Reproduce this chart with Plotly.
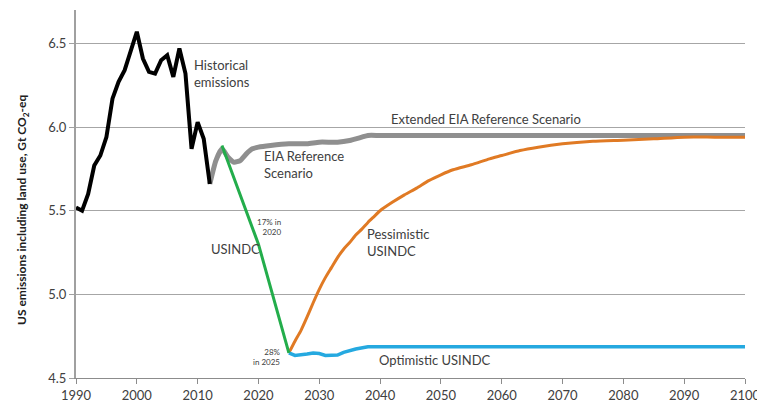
import plotly.graph_objects as go

# Historical US emissions including land use (Gt CO2-eq)
hist_years = list(range(1990, 2013))
hist_vals = [5.52, 5.50, 5.60, 5.77, 5.83, 5.94, 6.17, 6.27, 6.34, 6.45, 6.57,
             6.41, 6.33, 6.32, 6.40, 6.43, 6.30, 6.47, 6.32, 5.87, 6.03, 5.93, 5.66]

# EIA reference scenario, extended flat to 2100
eia_years = [2012, 2013, 2014, 2015, 2016, 2017, 2018, 2019, 2020, 2022, 2025,
             2028, 2030, 2033, 2035, 2037, 2038, 2040, 2060, 2080, 2100]
eia_vals = [5.66, 5.80, 5.87, 5.82, 5.79, 5.80, 5.84, 5.87, 5.88, 5.89, 5.90,
            5.90, 5.91, 5.91, 5.92, 5.94, 5.95, 5.95, 5.95, 5.95, 5.95]

# USINDC pathway: 17% below 2005 in 2020, 28% below in 2025
indc_years = [2014, 2020, 2025]
indc_vals = [5.89, 5.30, 4.65]

# Pessimistic USINDC: return toward reference after 2025
pess_years = [2025, 2026, 2027, 2028, 2029, 2030, 2031, 2032, 2033, 2034, 2035,
              2036, 2037, 2038, 2039, 2040, 2042, 2044, 2046, 2048, 2050, 2052,
              2055, 2058, 2060, 2063, 2066, 2070, 2075, 2080, 2085, 2090, 2095, 2100]
pess_vals = [4.65, 4.72, 4.785, 4.865, 4.95, 5.03, 5.10, 5.16, 5.22, 5.27, 5.31,
             5.355, 5.39, 5.43, 5.465, 5.50, 5.55, 5.595, 5.635, 5.68, 5.715, 5.745,
             5.775, 5.81, 5.83, 5.86, 5.88, 5.90, 5.915, 5.922, 5.93, 5.94, 5.94, 5.94]

# Optimistic USINDC: emissions held near the 2025 level
opt_years = [2025, 2026, 2028, 2029, 2030, 2031, 2033, 2034, 2036, 2038, 2040, 2060, 2080, 2100]
opt_vals = [4.65, 4.635, 4.643, 4.65, 4.646, 4.635, 4.637, 4.653, 4.673, 4.687,
            4.687, 4.687, 4.687, 4.687]

x_ticks = list(range(1990, 2101, 10))
y_ticks = [4.5, 5.0, 5.5, 6.0, 6.5]

FONT = "Lato"
TXT = "#404040"

fig = go.Figure()
fig.add_trace(go.Scatter(x=eia_years, y=eia_vals, mode="lines",
                         line=dict(color="#8f8f8f", width=5, shape="spline", smoothing=0.5),
                         hoverinfo="skip"))
fig.add_trace(go.Scatter(x=pess_years, y=pess_vals, mode="lines",
                         line=dict(color="#e07a24", width=3, shape="spline", smoothing=0.6),
                         hoverinfo="skip"))
fig.add_trace(go.Scatter(x=opt_years, y=opt_vals, mode="lines",
                         line=dict(color="#25a9e0", width=3.5), hoverinfo="skip"))
fig.add_trace(go.Scatter(x=indc_years, y=indc_vals, mode="lines",
                         line=dict(color="#23ad4b", width=3), hoverinfo="skip"))
fig.add_trace(go.Scatter(x=hist_years, y=hist_vals, mode="lines",
                         line=dict(color="#000000", width=4), hoverinfo="skip"))


def label(text, x, y, size=13, xanchor="left", align="left"):
    fig.add_annotation(text=text, x=x, y=y, xref="x", yref="y", showarrow=False,
                       xanchor=xanchor, yanchor="middle", align=align,
                       font=dict(family=FONT, size=size, color=TXT))


label("Historical<br>emissions", 2009.0, 6.32)
label("EIA Reference<br>Scenario", 2020.6, 5.777)
label("Extended EIA Reference Scenario", 2041.5, 6.05)
label("USINDC", 2011.8, 5.27)
label("Pessimistic<br>USINDC", 2037.6, 5.31)
label("Optimistic USINDC", 2039.5, 4.607)
label("17% in<br>2020", 2024.1, 5.40, size=8, xanchor="right", align="right")
label("28%<br>in 2025", 2024.0, 4.625, size=8, xanchor="right", align="right")

fig.add_annotation(text="<b>US emissions including land use, Gt CO<sub>2</sub>-eq</b>",
                   xref="paper", yref="paper", x=-0.079, y=0.457, textangle=-90,
                   showarrow=False, xanchor="center", yanchor="middle",
                   font=dict(family=FONT, size=12, color="#202020"))

fig.update_layout(
    template="none",
    width=757, height=403,
    margin=dict(l=76, r=12, t=10, b=25, autoexpand=False),
    plot_bgcolor="white", paper_bgcolor="white",
    showlegend=False,
    font=dict(family=FONT, size=13, color=TXT),
    xaxis=dict(range=[1990, 2100], tickmode="array", tickvals=x_ticks,
               automargin=False, ticklabeloverflow="allow",
               showgrid=False, zeroline=False, showline=True,
               linecolor="#8c8c8c", linewidth=1, ticks="outside", ticklen=5,
               tickcolor="#8c8c8c", tickfont=dict(family=FONT, size=13, color=TXT)),
    yaxis=dict(range=[4.5, 6.7], tickmode="array", tickvals=y_ticks,
               ticktext=[f"{v:.1f}" for v in y_ticks], automargin=False,
               showgrid=True, gridcolor="#a6a6a6", gridwidth=1, zeroline=False,
               showline=True, linecolor="#a0a0a0", linewidth=2, ticks="outside",
               ticklen=5, tickcolor="#a0a0a0",
               tickfont=dict(family=FONT, size=13, color=TXT)),
)

fig.write_html("out.html")
